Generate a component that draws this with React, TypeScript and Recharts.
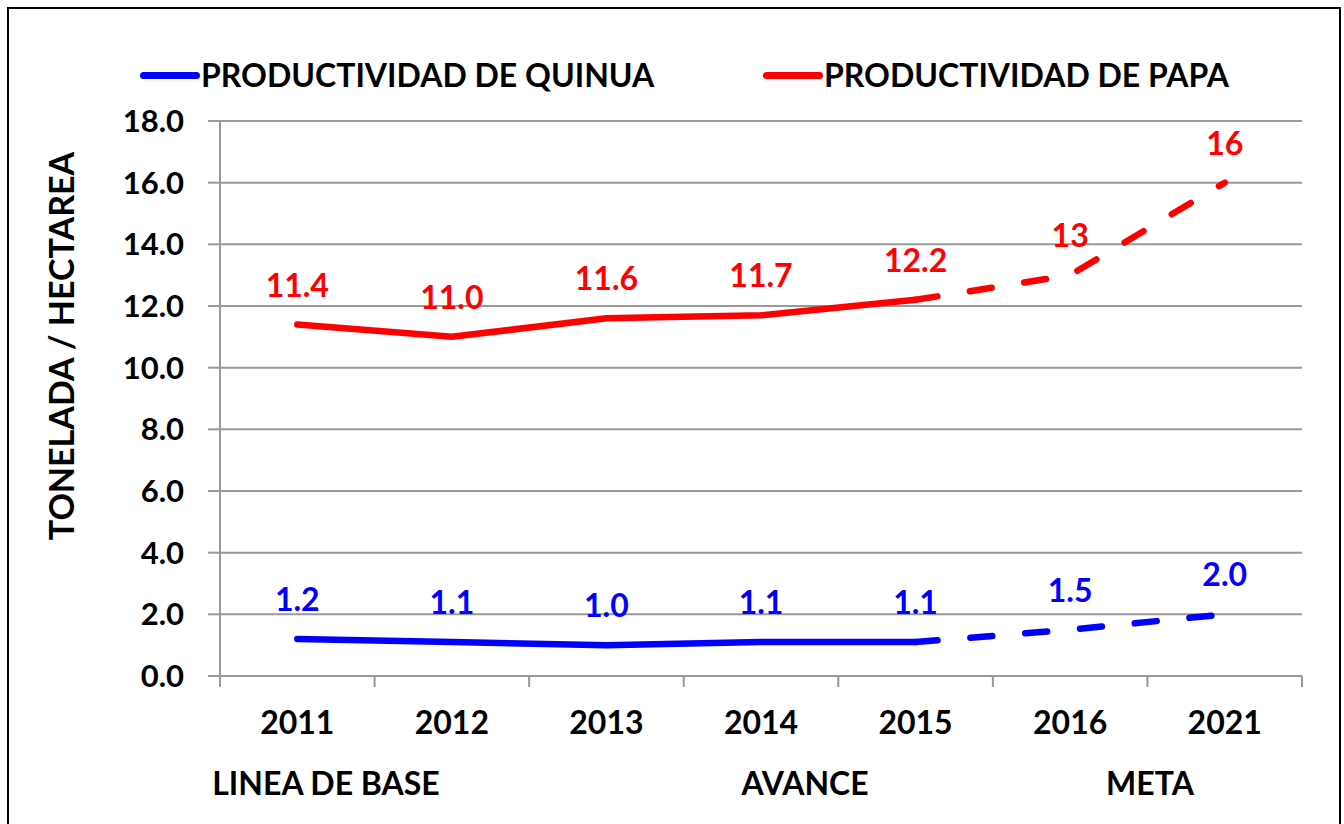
import { LineChart, Line, XAxis, YAxis, CartesianGrid, LabelList } from 'recharts'

const years = ['2011', '2012', '2013', '2014', '2015', '2016', '2021']
const papa = [11.4, 11.0, 11.6, 11.7, 12.2, 13, 16]
const papaLabels = ['11.4', '11.0', '11.6', '11.7', '12.2', '13', '16']
const quinua = [1.2, 1.1, 1.0, 1.1, 1.1, 1.5, 2.0]
const quinuaLabels = ['1.2', '1.1', '1.0', '1.1', '1.1', '1.5', '2.0']
const lastActual = 4 // 2015: solid up to here, dashed after
const yTicks = [0, 2, 4, 6, 8, 10, 12, 14, 16, 18]
const phases = [
  { label: 'LINEA DE BASE', x: 326 },
  { label: 'AVANCE', x: 805 },
  { label: 'META', x: 1150 },
]

const BLUE = '#0000ff'
const RED = '#ff0000'
const GRID = '#999999'
const FONT = 'Lato, "Open Sans", sans-serif'

// band positions on a numeric axis: boundaries at i, centres at i + 0.5
const data = years.map((year, i) => ({
  pos: i + 0.5,
  year,
  papaSolid: i <= lastActual ? papa[i] : null,
  papaDash: i >= lastActual ? papa[i] : null,
  papaAll: papa[i],
  papaLabel: papaLabels[i],
  quinuaSolid: i <= lastActual ? quinua[i] : null,
  quinuaDash: i >= lastActual ? quinua[i] : null,
  quinuaAll: quinua[i],
  quinuaLabel: quinuaLabels[i],
}))

const xTicks: number[] = []
for (let i = 0; i <= years.length * 2; i++) xTicks.push(i / 2)

function XTick(props: any) {
  const { x, y, payload } = props
  const v = payload.value as number
  if (Number.isInteger(v)) {
    return <line x1={x} x2={x} y1={y} y2={y + 11} stroke={GRID} strokeWidth={2} />
  }
  const label = years[Math.floor(v)]
  return (
    <text x={x} y={y + 58} textAnchor="middle" fontFamily={FONT} fontWeight={700} fontSize={32} fill="#000">
      {label}
    </text>
  )
}

const legendItems = [
  { label: 'PRODUCTIVIDAD DE QUINUA', color: BLUE, x: 140 },
  { label: 'PRODUCTIVIDAD DE PAPA', color: RED, x: 763 },
]

export default function App() {
  return (
    <div
      style={{
        position: 'absolute',
        left: 0,
        top: 0,
        width: 1344,
        height: 824,
        overflow: 'hidden',
        background: '#fff',
        fontFamily: FONT,
      }}
    >
      <div
        style={{
          position: 'absolute',
          left: 7,
          top: 7,
          width: 1330,
          height: 900,
          border: '2px solid #000',
        }}
      />

      {legendItems.map((item) => (
        <div
          key={item.label}
          style={{ position: 'absolute', left: item.x, top: 56, display: 'flex', alignItems: 'center' }}
        >
          <div style={{ width: 60, height: 7, borderRadius: 4, background: item.color }} />
          <span style={{ fontWeight: 700, fontSize: 32, color: '#000', marginLeft: 1, lineHeight: '38px' }}>
            {item.label}
          </span>
        </div>
      ))}

      <div
        style={{
          position: 'absolute',
          left: 60,
          top: 346,
          transform: 'translate(-50%, -50%) rotate(-90deg)',
          whiteSpace: 'nowrap',
          fontWeight: 700,
          fontSize: 34,
          color: '#000',
        }}
      >
        TONELADA / HECTAREA
      </div>

      {phases.map((p) => (
        <div
          key={p.label}
          style={{
            position: 'absolute',
            left: p.x,
            top: 782,
            transform: 'translate(-50%, -50%)',
            whiteSpace: 'nowrap',
            fontWeight: 700,
            fontSize: 32,
            color: '#000',
          }}
        >
          {p.label}
        </div>
      ))}

      <div style={{ position: 'absolute', left: 0, top: 0 }}>
        <LineChart width={1344} height={824} data={data} margin={{ top: 121, right: 42, bottom: 0, left: 100 }}>
          <CartesianGrid vertical={false} stroke={GRID} strokeWidth={2} />
          <XAxis
            dataKey="pos"
            type="number"
            domain={[0, years.length]}
            ticks={xTicks}
            interval={0}
            tickLine={false}
            tickSize={0}
            tickMargin={0}
            axisLine={{ stroke: GRID, strokeWidth: 2 }}
            tick={<XTick />}
            height={148}
          />
          <YAxis
            domain={[0, 18]}
            ticks={yTicks}
            interval={0}
            width={120}
            tickSize={12}
            tickMargin={24}
            tickLine={{ stroke: GRID, strokeWidth: 2 }}
            axisLine={{ stroke: GRID, strokeWidth: 2 }}
            tickFormatter={(v: number) => v.toFixed(1)}
            tick={{ fontFamily: FONT, fontWeight: 700, fontSize: 31, fill: '#000' }}
          />
          <Line
            dataKey="papaSolid"
            stroke={RED}
            strokeWidth={6.5}
            strokeLinecap="round"
            dot={false}
            connectNulls={false}
            isAnimationActive={false}
          />
          <Line
            dataKey="papaDash"
            stroke={RED}
            strokeWidth={6.5}
            strokeLinecap="round"
            strokeDasharray="22 33"
            dot={false}
            isAnimationActive={false}
          />
          <Line
            dataKey="quinuaSolid"
            stroke={BLUE}
            strokeWidth={6.5}
            strokeLinecap="round"
            dot={false}
            isAnimationActive={false}
          />
          <Line
            dataKey="quinuaDash"
            stroke={BLUE}
            strokeWidth={6.5}
            strokeLinecap="round"
            strokeDasharray="22 33"
            dot={false}
            isAnimationActive={false}
          />
          <Line dataKey="papaAll" stroke="none" dot={false} isAnimationActive={false}>
            <LabelList
              dataKey="papaLabel"
              position="top"
              offset={28}
              fill={RED}
              fontFamily={FONT}
              fontWeight={700}
              fontSize={32}
            />
          </Line>
          <Line dataKey="quinuaAll" stroke="none" dot={false} isAnimationActive={false}>
            <LabelList
              dataKey="quinuaLabel"
              position="top"
              offset={28}
              fill={BLUE}
              fontFamily={FONT}
              fontWeight={700}
              fontSize={32}
            />
          </Line>
        </LineChart>
      </div>
    </div>
  )
}
